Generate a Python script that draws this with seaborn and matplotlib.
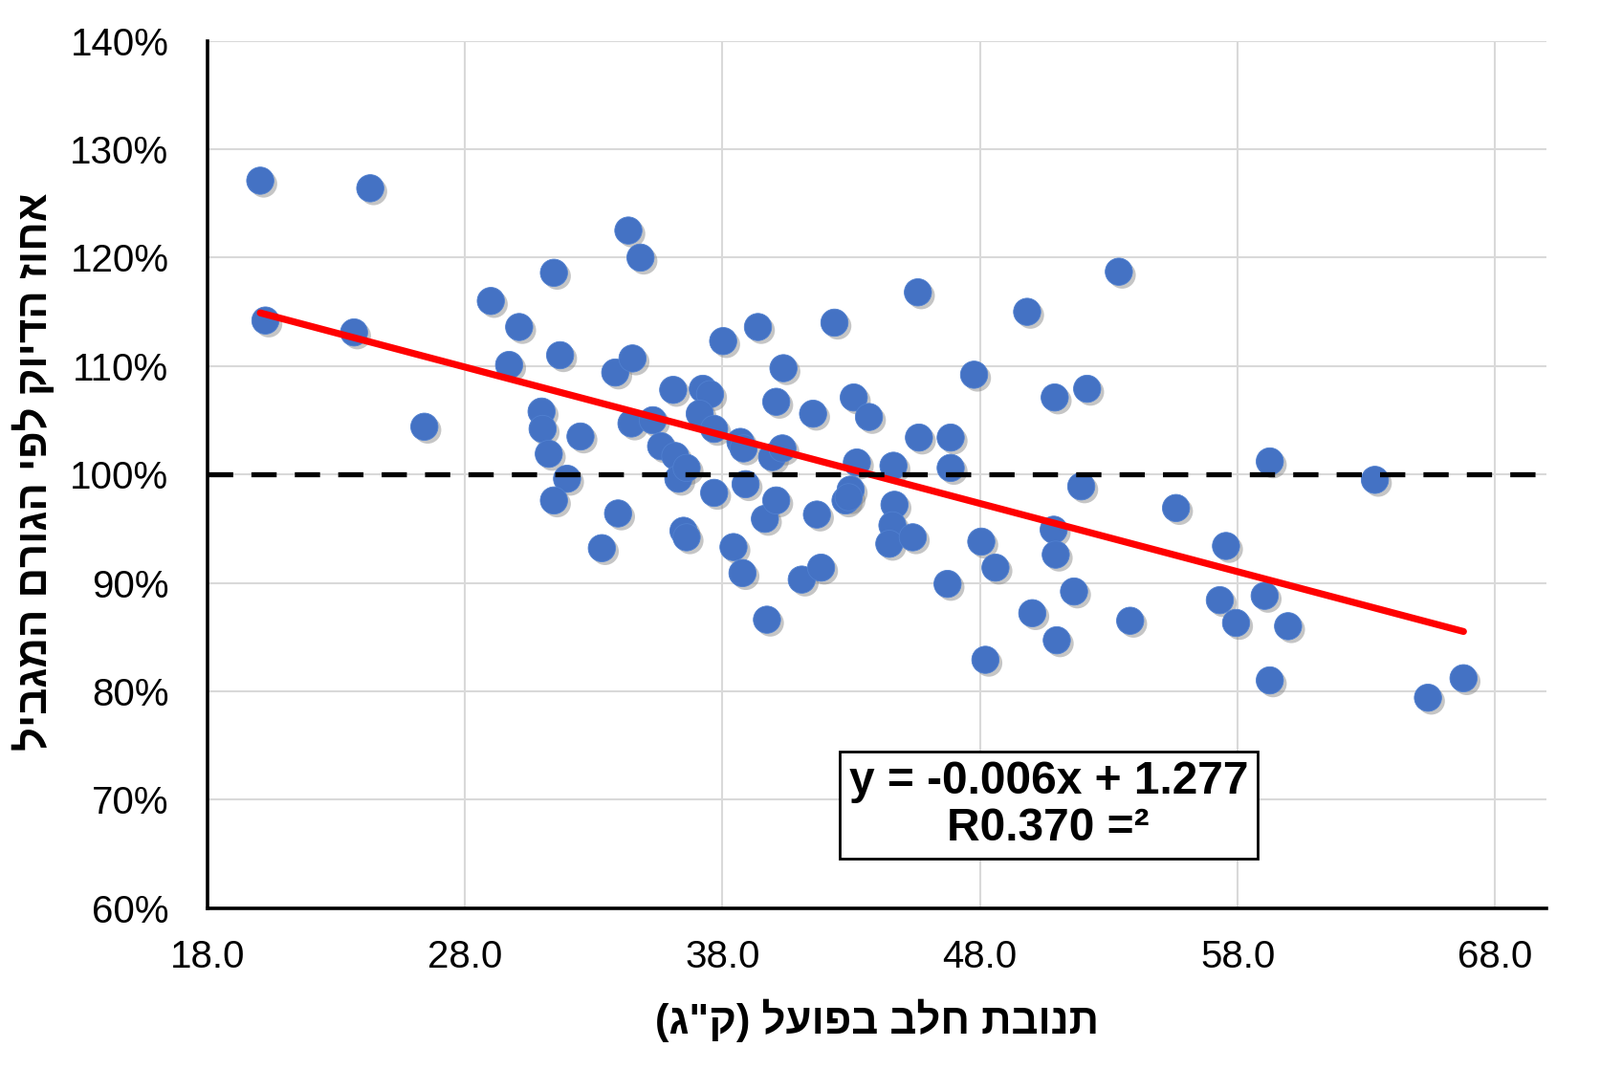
import numpy as np
import pandas as pd
import seaborn as sns
import matplotlib.pyplot as plt
import matplotlib.patheffects as pe
from matplotlib.ticker import PercentFormatter, FormatStrFormatter

milk_kg = [20.06, 20.26, 24.33, 23.70, 26.43, 29.01, 30.11, 29.72, 31.46, 31.70,
           30.98, 31.02, 31.26, 31.97, 31.46, 32.49, 33.32, 33.84, 33.95, 34.35,
           34.82, 34.51, 34.47, 35.30, 35.62, 36.09, 36.17, 36.29, 36.61, 36.49,
           36.61, 37.24, 37.52, 37.12, 37.68, 37.68, 38.03, 38.43, 38.70, 38.82,
           38.78, 38.90, 39.38, 39.65, 39.73, 40.09, 39.93, 40.09, 40.37, 40.33,
           41.08, 41.52, 41.67, 41.83, 42.35, 43.10, 43.22, 43.69, 42.98, 42.78,
           42.90, 44.64, 44.68, 44.60, 44.48, 45.39, 45.59, 45.63, 46.74, 46.86,
           46.86, 47.77, 48.05, 48.21, 48.60, 49.83, 50.03, 50.90, 50.86, 50.94,
           50.98, 51.65, 51.93, 52.16, 53.39, 53.83, 55.61, 57.31, 57.55, 57.94,
           59.05, 59.25, 59.25, 59.96, 63.33, 65.39, 66.77]
accuracy_pct = [127.1, 114.2, 126.4, 113.1, 104.4, 116.0, 113.6, 110.1, 118.6, 111.0,
                105.8, 104.2, 101.9, 99.6, 97.6, 103.5, 93.2, 109.4, 96.4, 122.5,
                120.0, 110.7, 104.7, 105.0, 102.6, 107.8, 101.7, 99.6, 100.6, 94.8,
                94.2, 107.9, 107.4, 105.6, 104.2, 98.3, 112.3, 93.3, 103.0, 102.4,
                90.9, 99.1, 113.6, 95.9, 86.6, 106.7, 101.6, 97.6, 109.8, 102.4,
                90.3, 105.6, 96.3, 91.4, 114.0, 107.1, 101.1, 105.3, 98.6, 97.6,
                97.9, 100.8, 97.2, 95.3, 93.6, 94.2, 116.8, 103.4, 89.9, 103.4,
                100.6, 109.2, 93.8, 82.9, 91.4, 115.0, 87.2, 107.1, 94.9, 92.6,
                84.7, 89.2, 98.9, 107.9, 118.7, 86.5, 96.9, 88.4, 93.4, 86.3,
                88.8, 101.2, 81.0, 86.0, 99.5, 79.4, 81.2]

x_ticks = [18, 28, 38, 48, 58, 68]
y_ticks = [0.6, 0.7, 0.8, 0.9, 1.0, 1.1, 1.2, 1.3, 1.4]
x_title = 'תנובת חלב בפועל (ק"ג)'
y_title = 'אחוז הדיוק לפי הגורם המגביל'
eq_text = 'y = -0.006x + 1.277\nR0.370 =²'


def heb(s):
    # matplotlib has no bidi support: put the Hebrew in visual order
    return s[::-1].translate(str.maketrans('()', ')('))


df = pd.DataFrame({'milk': milk_kg, 'acc': np.array(accuracy_pct) / 100})

sns.set_theme(style='whitegrid')
plt.rcParams['font.family'] = ['Liberation Sans', 'DejaVu Sans']

fig = plt.figure(figsize=(16.73, 11.18), dpi=100)
ax = fig.add_axes([0.1295, 0.1506, 0.8372, 0.8112])

sns.scatterplot(data=df, x='milk', y='acc', ax=ax, s=420, color='#4472C4',
                edgecolor='#5080d0', linewidth=0.6, zorder=3)
ax.collections[-1].set_path_effects([
    pe.SimplePatchShadow(offset=(2.5, -2.5), shadow_rgbFace='#7f7f7f', alpha=0.45),
    pe.Normal()])

sns.regplot(data=df, x='milk', y='acc', ax=ax, scatter=False, ci=None,
            color='#ff0000', line_kws={'linewidth': 5.2, 'solid_capstyle': 'round',
                                       'zorder': 4})

ax.axhline(1.0, color='black', linewidth=3.8, dashes=(5, 3.6), zorder=5)

ax.set_xlim(18, 70)
ax.set_ylim(0.6, 1.4)
ax.set_xticks(x_ticks)
ax.set_yticks(y_ticks)
ax.xaxis.set_major_formatter(FormatStrFormatter('%.1f'))
ax.yaxis.set_major_formatter(PercentFormatter(xmax=1, decimals=0))
ax.tick_params(axis='both', labelsize=29, colors='black', length=0)
ax.tick_params(axis='y', pad=29)
ax.tick_params(axis='x', pad=23)

ax.grid(True, color='#d9d9d9', linewidth=1.5)
ax.set_facecolor('white')
for side in ['top', 'right']:
    ax.spines[side].set_visible(False)
for side in ['left', 'bottom']:
    ax.spines[side].set_color('black')
    ax.spines[side].set_linewidth(2.6)
    ax.spines[side].set_zorder(6)

ax.set_xlabel(heb(x_title), fontsize=31.5, fontweight='bold', color='black')
ax.set_ylabel(heb(y_title), fontsize=31.5, fontweight='bold', color='black')
ax.xaxis.set_label_coords(0.5, -0.105)
ax.xaxis.label.set_va('top')
ax.yaxis.set_label_coords(-0.129, 0.503)
ax.yaxis.label.set_va('center')

ax.text(0.628, 0.1187, eq_text, transform=ax.transAxes, ha='center', va='center',
        fontsize=34.5, fontweight='bold', color='black', linespacing=1.1, zorder=7,
        bbox=dict(boxstyle='square,pad=0.2', facecolor='white', edgecolor='black',
                  linewidth=2))

fig.savefig('out.png', dpi=100, facecolor='white')
